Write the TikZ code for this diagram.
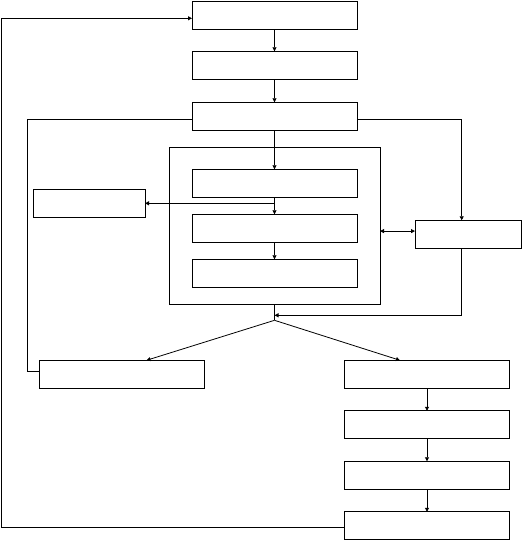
\documentclass[tikz,border=0pt]{standalone}
\usepackage{tikz}
\usetikzlibrary{arrows.meta,positioning}

\begin{document}
\begin{tikzpicture}[
    x=1pt, y=1pt,
    line width=0.8pt,
    box/.style={draw, minimum width=165pt, minimum height=28pt, inner sep=0pt, outer sep=0pt},
    smallbox/.style={box, minimum width=112pt},
    framebox/.style={draw, minimum width=211pt, minimum height=157pt, inner sep=0pt, outer sep=0pt},
    arr/.style={-{Triangle[length=4pt,width=4pt]}},
    dblarr/.style={{Triangle[length=4pt,width=4pt]}-{Triangle[length=4pt,width=4pt]}}
]
    \useasboundingbox (0,0) rectangle (528,541);

    \node[box] (top1) at (274.5,525.7) {};
    \node[box, below=22pt of top1] (top2) {};
    \node[box, below=23pt of top2] (top3) {};
    \node[box, below=39pt of top3] (in1) {};
    \node[box, below=17pt of in1] (in2) {};
    \node[box, below=17pt of in2] (in3) {};
    \node[framebox] (core) at ([yshift=2.5pt]in2) {};
    \node[smallbox] (side) at (89,337.7) {};
    \node[smallbox, minimum width=106pt] (mon) at (468,306.7) {};
    \node[box] (exit) at (121.5,166.7) {};
    \node[box] (r1) at (427,166.7) {};
    \node[box, below=22.5pt of r1] (r2) {};
    \node[box, below=22.5pt of r2] (r3) {};
    \node[box, below=22.5pt of r3] (r4) {};

    \coordinate (lx) at (27,0);
    \coordinate (fx) at (1.3,0);
    \coordinate (merge) at ([yshift=-11pt]core.south);
    \coordinate (split) at ([yshift=-16pt]core.south);

    \draw[arr] (top1) -- (top2);
    \draw[arr] (top2) -- (top3);
    \draw[arr] (top3) -- (in1);
    \draw[arr] (in1) -- (in2);
    \draw[arr] (in2) -- (in3);
    \draw[arr] (in1.south |- side.east) -- (side.east);
    \draw ([yshift=-3pt]top3.west) -| ([yshift=2.6pt]lx |- exit.west) -- ([yshift=2.6pt]exit.west);
    \draw[arr] ([yshift=-3pt]top3.east) -| ([xshift=-6.3pt]mon.north);
    \draw[dblarr] ([yshift=-5.3pt]core.east) -- ([yshift=-5.3pt]core.east -| mon.west);
    \draw[arr] ([xshift=-6.3pt]mon.south) |- (merge);
    \draw (core.south) -- (split);
    \draw[arr] (split) -- ([xshift=25pt]exit.north);
    \draw[arr] (split) -- ([xshift=-27pt]r1.north);
    \draw[arr] (r1) -- (r2);
    \draw[arr] (r2) -- (r3);
    \draw[arr] (r3) -- (r4);
    \draw[arr] ([yshift=-2pt]r4.west) -- ([yshift=-2pt]fx |- r4.west) |- ([yshift=-3pt]top1.west);
\end{tikzpicture}
\end{document}
